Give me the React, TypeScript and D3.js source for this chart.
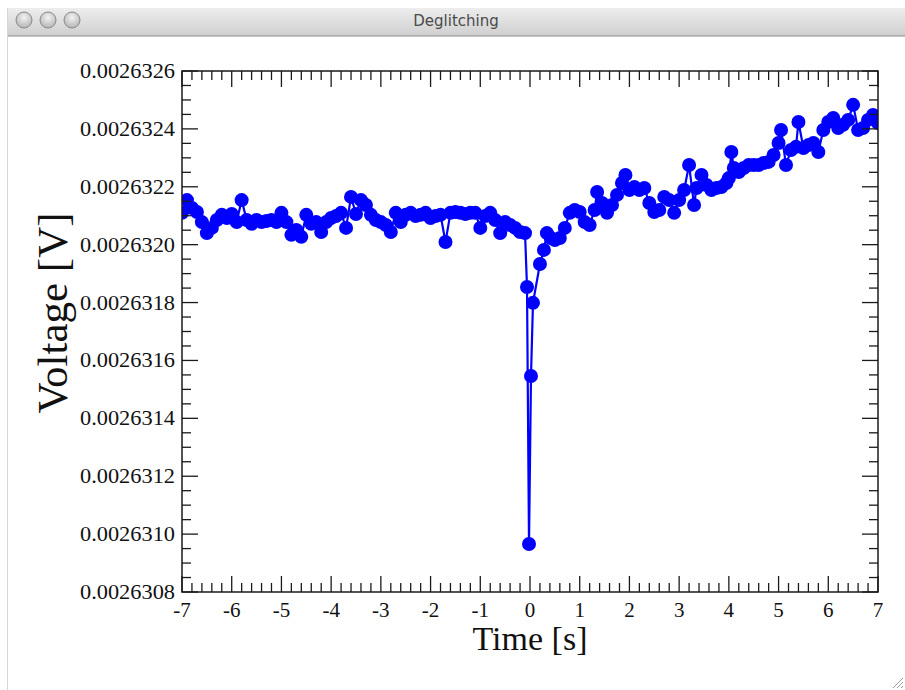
import React from "react";
import * as d3 from "d3";

const times: number[] = [
  -7.0, -6.9, -6.8, -6.7, -6.6, -6.5, -6.4, -6.3, -6.2, -6.1,
  -6.0, -5.9, -5.8, -5.7, -5.6, -5.5, -5.4, -5.3, -5.2, -5.1,
  -5.0, -4.9, -4.8, -4.7, -4.6, -4.5, -4.4, -4.3, -4.2, -4.1,
  -4.0, -3.9, -3.8, -3.7, -3.6, -3.5, -3.4, -3.3, -3.2, -3.1,
  -3.0, -2.9, -2.8, -2.7, -2.6, -2.5, -2.4, -2.3, -2.2, -2.1,
  -2.0, -1.9, -1.8, -1.7, -1.6, -1.5, -1.4, -1.3, -1.2, -1.1,
  -1.0, -0.9, -0.8, -0.7, -0.6, -0.5, -0.4, -0.3, -0.2, -0.1,
  -0.06, -0.02, 0.02, 0.06, 0.2, 0.28, 0.34, 0.42, 0.5, 0.6,
  0.7, 0.8, 0.9, 1.0, 1.1, 1.2, 1.3, 1.35, 1.45, 1.55,
  1.65, 1.75, 1.85, 1.92, 2.0, 2.1, 2.2, 2.3, 2.4, 2.5,
  2.6, 2.7, 2.8, 2.9, 3.0, 3.1, 3.2, 3.3, 3.35, 3.45,
  3.55, 3.65, 3.75, 3.85, 3.95, 4.0, 4.05, 4.1, 4.2, 4.3,
  4.4, 4.5, 4.6, 4.7, 4.8, 4.9, 5.0, 5.05, 5.15, 5.25,
  5.35, 5.4, 5.5, 5.6, 5.7, 5.8, 5.9, 6.0, 6.1, 6.2,
  6.3, 6.4, 6.5, 6.6, 6.7, 6.8, 6.9, 7.0,
];

const voltages: number[] = [
  0.00263211, 0.002632154, 0.002632127, 0.002632113, 0.002632078, 0.00263204, 0.002632058, 0.002632085, 0.002632103, 0.002632092,
  0.002632106, 0.002632078, 0.002632154, 0.002632085, 0.002632072, 0.002632085, 0.002632078, 0.002632082, 0.002632085, 0.002632078,
  0.00263211, 0.002632078, 0.002632034, 0.002632051, 0.002632027, 0.002632103, 0.002632072, 0.002632078, 0.002632044, 0.002632078,
  0.002632092, 0.002632099, 0.00263211, 0.002632058, 0.002632165, 0.002632106, 0.002632154, 0.002632137, 0.002632103, 0.002632085,
  0.002632078, 0.002632068, 0.002632044, 0.00263211, 0.002632078, 0.002632103, 0.00263211, 0.002632099, 0.002632103, 0.00263211,
  0.002632092, 0.002632099, 0.002632103, 0.002632009, 0.00263211, 0.002632113, 0.00263211, 0.002632106, 0.00263211, 0.00263211,
  0.002632058, 0.002632099, 0.00263211, 0.002632085, 0.00263204, 0.002632078, 0.002632068, 0.002632058, 0.002632044, 0.00263204,
  0.002631854, 0.002630966, 0.002631546, 0.002631799, 0.002631933, 0.002631982, 0.00263204, 0.002632023, 0.002632016, 0.002632023,
  0.002632058, 0.00263211, 0.00263212, 0.002632113, 0.002632078, 0.002632068, 0.00263212, 0.002632182, 0.002632144, 0.00263211,
  0.002632137, 0.002632172, 0.002632213, 0.002632241, 0.002632189, 0.002632199, 0.002632189, 0.002632196, 0.002632144, 0.002632113,
  0.00263212, 0.002632165, 0.002632154, 0.00263211, 0.002632154, 0.002632189, 0.002632275, 0.002632137, 0.002632196, 0.002632241,
  0.002632206, 0.002632189, 0.002632196, 0.002632199, 0.002632213, 0.00263223, 0.00263232, 0.002632265, 0.002632251, 0.002632265,
  0.002632275, 0.002632275, 0.002632275, 0.002632282, 0.002632286, 0.00263231, 0.002632351, 0.002632396, 0.002632275, 0.002632327,
  0.002632338, 0.002632424, 0.002632334, 0.002632344, 0.002632351, 0.00263232, 0.002632396, 0.002632424, 0.002632438, 0.002632403,
  0.002632414, 0.002632431, 0.002632483, 0.002632396, 0.002632403, 0.002632431, 0.002632448, 0.00263242,
];

const xTickValues: number[] = [-7, -6, -5, -4, -3, -2, -1, 0, 1, 2, 3, 4, 5, 6, 7];
const yTickLabels: string[] = [
  "0.0026308", "0.0026310", "0.0026312", "0.0026314", "0.0026316",
  "0.0026318", "0.0026320", "0.0026322", "0.0026324", "0.0026326",
];
const windowTitle = "Deglitching";
const xTitle = "Time [s]";
const yTitle = "Voltage [V]";

const W = 905;
const H = 690;
const L = 182, R = 878, T = 71, B = 592;
const SERIF = "'Liberation Serif', 'Times New Roman', serif";
const BLUE = "#0000ff";

export default function App() {
  const x = d3.scaleLinear().domain([-7, 7]).range([L, R]);
  const y = d3.scaleLinear().domain([0.0026308, 0.0026326]).range([B, T]);
  const pts = times.map((t, i) => [t, voltages[i]] as [number, number]);
  const line = d3.line<[number, number]>().x((d) => x(d[0])).y((d) => y(d[1]));

  const xMinor = d3.range(-70, 71, 2).map((v) => v / 10).filter((v) => Math.abs(v - Math.round(v)) > 1e-6);
  const yMajor = yTickLabels.map((s) => parseFloat(s));
  const yMinor: number[] = [];
  for (let i = 0; i < yMajor.length - 1; i++) {
    for (let k = 1; k < 4; k++) yMinor.push(yMajor[i] + (k * (yMajor[i + 1] - yMajor[i])) / 4);
  }
  const MAJ = 16, MIN = 9;
  const axisColor = "#1a1a1a";

  return (
    <svg width={W} height={H} style={{ position: "absolute", left: 0, top: 0, display: "block", background: "#fff" }}>
      <defs>
        <linearGradient id="tb" x1="0" y1="0" x2="0" y2="1">
          <stop offset="0" stopColor="#ededed" />
          <stop offset="1" stopColor="#cfcfcf" />
        </linearGradient>
        <radialGradient id="btn" cx="0.5" cy="0.35" r="0.6">
          <stop offset="0" stopColor="#f4f4f4" />
          <stop offset="1" stopColor="#b8b8b8" />
        </radialGradient>
        <clipPath id="plotclip">
          <rect x={L} y={T} width={R - L} height={B - T} />
        </clipPath>
      </defs>
      <rect x={0} y={0} width={W} height={H} fill="#fff" />
      {/* window chrome */}
      <rect x={7} y={8} width={W - 7} height={28} fill="url(#tb)" />
      <line x1={7} x2={W} y1={36} y2={36} stroke="#8a8a8a" strokeWidth={1} />
      <line x1={7.5} x2={7.5} y1={8} y2={H} stroke="#d6d6d6" strokeWidth={1} />
      {[24, 48, 72].map((cx) => (
        <circle key={cx} cx={cx} cy={20} r={8} fill="url(#btn)" stroke="#8c8c8c" strokeWidth={1} />
      ))}
      <text x={456} y={26} textAnchor="middle" fontFamily="'DejaVu Sans', sans-serif" fontSize={15} fill="#4a4a4a">
        {windowTitle}
      </text>
      {[0, 1, 2].map((k) => (
        <line key={k} x1={W - 12 + k * 4} y1={H - 2} x2={W - 2} y2={H - 12 + k * 4} stroke="#9a9a9a" strokeWidth={1} />
      ))}

      {/* data */}
      <g clipPath="url(#plotclip)">
        <path d={line(pts) || ""} fill="none" stroke={BLUE} strokeWidth={2.2} />
        {pts.map((p, i) => (
          <circle key={i} cx={x(p[0])} cy={y(p[1])} r={7} fill={BLUE} />
        ))}
      </g>

      {/* frame */}
      <rect x={L} y={T} width={R - L} height={B - T} fill="none" stroke={axisColor} strokeWidth={1.5} />
      {/* x ticks */}
      {xTickValues.map((v) => (
        <g key={"xm" + v}>
          <line x1={x(v)} x2={x(v)} y1={B} y2={B - MAJ} stroke={axisColor} strokeWidth={1.3} />
          <line x1={x(v)} x2={x(v)} y1={T} y2={T + MAJ} stroke={axisColor} strokeWidth={1.3} />
          <text x={x(v)} y={B + 25} textAnchor="middle" fontFamily={SERIF} fontSize={21} fill="#111">
            {String(v)}
          </text>
        </g>
      ))}
      {xMinor.map((v) => (
        <g key={"xn" + v}>
          <line x1={x(v)} x2={x(v)} y1={B} y2={B - MIN} stroke={axisColor} strokeWidth={1.3} />
          <line x1={x(v)} x2={x(v)} y1={T} y2={T + MIN} stroke={axisColor} strokeWidth={1.3} />
        </g>
      ))}
      {/* y ticks */}
      {yMajor.map((v, i) => (
        <g key={"ym" + i}>
          <line x1={L} x2={L + MAJ} y1={y(v)} y2={y(v)} stroke={axisColor} strokeWidth={1.3} />
          <line x1={R} x2={R - MAJ} y1={y(v)} y2={y(v)} stroke={axisColor} strokeWidth={1.3} />
          <text x={L - 7} y={y(v) + 7} textAnchor="end" fontFamily={SERIF} fontSize={21} textLength={95} lengthAdjust="spacingAndGlyphs" fill="#111">
            {yTickLabels[i]}
          </text>
        </g>
      ))}
      {yMinor.map((v, i) => (
        <g key={"yn" + i}>
          <line x1={L} x2={L + MIN} y1={y(v)} y2={y(v)} stroke={axisColor} strokeWidth={1.3} />
          <line x1={R} x2={R - MIN} y1={y(v)} y2={y(v)} stroke={axisColor} strokeWidth={1.3} />
        </g>
      ))}

      {/* titles */}
      <text x={(L + R) / 2} y={650} textAnchor="middle" fontFamily={SERIF} fontSize={34} fill="#111">
        {xTitle}
      </text>
      <text
        transform={`translate(67, 313) rotate(-90)`}
        textAnchor="middle"
        fontFamily={SERIF}
        fontSize={43}
        fill="#111"
      >
        {yTitle}
      </text>
    </svg>
  );
}
